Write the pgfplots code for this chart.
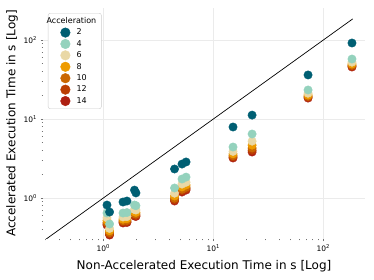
\documentclass[border=0pt]{standalone}
\usepackage{pgfplots}
\pgfplotsset{compat=1.18}
\usepackage{fontspec}
\setmainfont{DejaVu Sans}
\definecolor{c2}{HTML}{005F73}
\definecolor{c4}{HTML}{94D2BD}
\definecolor{c6}{HTML}{E9D8A6}
\definecolor{c8}{HTML}{EE9B00}
\definecolor{c10}{HTML}{CA6702}
\definecolor{c12}{HTML}{BB3E03}
\definecolor{c14}{HTML}{AE2012}
\pgfplotsset{acc/.style={only marks, mark=*, mark size=4.2pt, color=#1,
  mark options={draw=none, fill=#1},
  legend image code/.code={\fill[#1] (14pt,0pt) circle (4.8pt); \path (0pt,-3pt) (23pt,3pt);}}}
\begin{document}
\begin{tikzpicture}
\useasboundingbox (-43pt,-41pt) rectangle (331pt,239pt);
\begin{axis}[
  scale only axis, width=322pt, height=231pt,
  xmode=log, ymode=log, log basis x=10, log basis y=10,
  xmin=0.283, xmax=239, ymin=0.303, ymax=254,
  axis line style={draw=none},
  grid=major, major grid style={color=black!8, line width=0.8pt},
  tick align=outside, major tick length=2.5pt, minor tick length=1.5pt,
  tick style={color=black!55, line width=0.7pt},
  xtick pos=bottom, ytick pos=left,
  xticklabel={\pgfmathparse{round(\tick)}\pgfmathtruncatemacro\e{\pgfmathresult}10\textsuperscript{\e}},
  yticklabel={\pgfmathparse{round(\tick)}\pgfmathtruncatemacro\e{\pgfmathresult}10\textsuperscript{\e}},
  ticklabel style={font=\fontsize{7.5}{9}\selectfont},
  xlabel={Non-Accelerated Execution Time in s [Log]},
  ylabel={Accelerated Execution Time in s [Log]},
  label style={font=\fontsize{12}{14}\selectfont},
  xlabel style={at={(axis description cs:0.5,-0.1169)}, anchor=center},
  ylabel style={at={(axis description cs:-0.0963,0.5)}, anchor=center},
  reverse legend,
  legend style={at={(axis description cs:0.0155,0.978)}, anchor=north west,
    draw=black!20, rounded corners=2pt, fill=white,
    font=\fontsize{8}{9.6}\selectfont, inner xsep=3pt, inner ysep=2pt},
  legend cell align=left,
]
\addplot[black, line width=0.7pt] coordinates {(0.28,0.28) (185,185)};
\addplot[acc=c14] coordinates {(1.08,0.455) (1.14,0.340) (1.51,0.483) (1.64,0.490) (1.92,0.592) (1.98,0.585) (4.44,0.916) (5.19,1.19) (5.65,1.26) (15.1,3.21) (22.5,3.82) (72.6,18.4) (182,45.5)};
\addlegendentry{14}
\addplot[acc=c12] coordinates {(1.08,0.471) (1.14,0.352) (1.51,0.498) (1.64,0.505) (1.92,0.611) (1.98,0.603) (4.44,0.951) (5.19,1.24) (5.65,1.31) (15.1,3.31) (22.5,4.03) (72.6,18.9) (182,46.6)};
\addlegendentry{12}
\addplot[acc=c10] coordinates {(1.08,0.491) (1.14,0.366) (1.51,0.515) (1.64,0.522) (1.92,0.635) (1.98,0.626) (4.44,0.995) (5.19,1.29) (5.65,1.37) (15.1,3.44) (22.5,4.29) (72.6,19.4) (182,47.9)};
\addlegendentry{10}
\addplot[acc=c8] coordinates {(1.08,0.520) (1.14,0.385) (1.51,0.540) (1.64,0.548) (1.92,0.668) (1.98,0.658) (4.44,1.06) (5.19,1.38) (5.65,1.46) (15.1,3.62) (22.5,4.67) (72.6,20.1) (182,49.7)};
\addlegendentry{8}
\addplot[acc=c6] coordinates {(1.08,0.561) (1.14,0.412) (1.51,0.575) (1.64,0.582) (1.92,0.716) (1.98,0.705) (4.44,1.15) (5.19,1.50) (5.65,1.58) (15.1,3.89) (22.5,5.24) (72.6,21.2) (182,52.4)};
\addlegendentry{6}
\addplot[acc=c4] coordinates {(1.08,0.646) (1.14,0.469) (1.51,0.646) (1.64,0.655) (1.92,0.815) (1.98,0.800) (4.44,1.34) (5.19,1.74) (5.65,1.84) (15.1,4.42) (22.5,6.46) (72.6,23.3) (182,57.4)};
\addlegendentry{4}
\addplot[acc=c2] coordinates {(1.08,0.815) (1.14,0.665) (1.51,0.890) (1.64,0.916) (1.92,1.26) (1.98,1.16) (4.44,2.33) (5.19,2.69) (5.65,2.86) (15.1,7.92) (22.5,11.2) (72.6,36.1) (182,91.6)};
\addlegendentry{2}
\addlegendimage{empty legend}
\addlegendentry{\hspace*{-30pt}Acceleration}
\end{axis}
\end{tikzpicture}
\end{document}
